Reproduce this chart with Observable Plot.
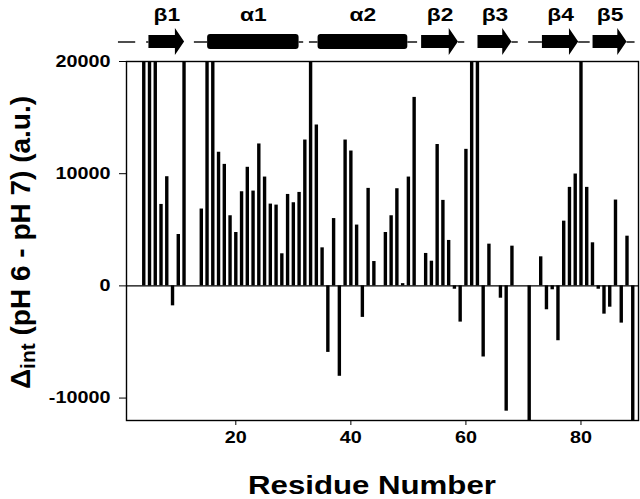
<!DOCTYPE html>
<html><head><meta charset="utf-8">
<script src="https://cdn.jsdelivr.net/npm/d3@7"></script>
<script src="https://cdn.jsdelivr.net/npm/@observablehq/plot@0.6"></script>
<style>
body{margin:0;background:#fff;}
#wrap{position:relative;width:640px;height:499px;}
#wrap svg{position:absolute;left:0;top:0;}
</style></head><body><div id="wrap"></div>
<script>
// Residue numbers and Δint (pH 6 − pH 7) values (a.u.); off-scale bars are shown at the axis limit
const residues = [4,5,6,7,8,9,10,11,14,15,16,17,18,19,20,21,22,23,24,25,26,27,28,29,30,31,32,33,34,35,36,37,38,39,40,41,42,43,44,46,47,48,49,50,51,53,54,55,56,57,58,59,60,61,62,63,64,66,67,68,71,73,74,75,76,77,78,79,80,81,82,83,84,85,86,87,88,89];
const values = [20000,20000,20000,7260,9730,-1780,4580,20000,6850,20000,20000,11900,10830,6250,4760,8390,10570,8450,12650,9700,7290,7200,2860,8150,7410,8330,13000,20000,14350,3390,-5930,6000,-8060,13000,12020,5420,-2810,8690,2170,4760,6250,8660,200,9700,16800,2890,2200,12600,7620,4050,-300,-3230,12170,20000,20000,-6340,3720,-1100,-11170,3540,-12000,2590,-2130,-350,-4890,5770,8780,9970,20000,8780,3840,-300,-2520,-1900,7650,-3320,4430,-12000];
const xTicks = [20,40,60,80];
const yTicks = [-10000,0,10000,20000];

// Secondary structure (residue ranges)
const strandNames = ["β1","β2","β3","β4","β5"];
const strandStart = [4.9,52.3,62.1,73.3,82.1];
const strandEnd = [11.1,58.7,68.0,79.6,88.0];
const helixNames = ["α1","α2"];
const helixStart = [15.1,34.3];
const helixEnd = [31.0,49.9];
const coilStart = [-0.4,4.5,12.8,31.0,32.8,49.9,58.7,68.0,70.9,79.6,88.0];
const coilEnd = [2.6,4.9,15.1,31.8,34.3,51.6,59.8,69.1,73.3,81.6,89.4];

const FONT = "'Liberation Sans', Arial, sans-serif";
const bars = residues.map((r,i)=>({r, v: values[i]}));

const main = Plot.plot({
  width:640, height:499, marginTop:61, marginBottom:79, marginLeft:126, marginRight:2,
  style:{fontFamily:FONT, fontSize:"16.5px", fontWeight:"bold", background:"transparent", color:"black"},
  x:{domain:[1,90], ticks:xTicks, tickSize:5, tickPadding:6, label:null},
  y:{domain:[-12000,20000], ticks:yTicks, tickSize:7, tickPadding:9, label:null, tickFormat:d=>String(d)},
  marks:[
    Plot.ruleX(bars,{x:"r", y1:()=>0, y2:"v", stroke:"black", strokeWidth:3.4}),
    Plot.ruleY([0],{stroke:"black", strokeWidth:1.4}),
    Plot.frame({stroke:"black", strokeWidth:1.4})
  ]
});

// secondary-structure strip, sharing the same x domain and margins
const HEAD = 1.6, LINE_Y = 41.5, BODY = 6.5, HEADH = 13.5, HELIX = 7.5;
const helices = helixNames.map((n,i)=>({n, s:helixStart[i], e:helixEnd[i]}));
const coils = coilStart.map((s,i)=>({s, e:coilEnd[i]}));
const arrowPts = strandNames.flatMap((n,i)=>{
  const s = strandStart[i], e = strandEnd[i], h = e - HEAD;
  return [
    {n, x:s, y1:LINE_Y-BODY, y2:LINE_Y+BODY},
    {n, x:h, y1:LINE_Y-BODY, y2:LINE_Y+BODY},
    {n, x:h, y1:LINE_Y-HEADH, y2:LINE_Y+HEADH},
    {n, x:e, y1:LINE_Y, y2:LINE_Y}
  ];
});
const labels = [
  ...strandNames.map((n,i)=>({n, x:(strandStart[i]+strandEnd[i])/2})),
  ...helixNames.map((n,i)=>({n, x:(helixStart[i]+helixEnd[i])/2}))
];
const strip = Plot.plot({
  width:640, height:61, marginTop:0, marginBottom:0, marginLeft:126, marginRight:2,
  style:{fontFamily:FONT, fontWeight:"bold", background:"transparent", color:"black"},
  x:{domain:[1,90], axis:null},
  y:{domain:[0,61], range:[0,61], axis:null},
  marks:[
    Plot.ruleY(coils,{y:()=>LINE_Y, x1:"s", x2:"e", stroke:"black", strokeWidth:1.4}),
    Plot.rect(helices,{x1:"s", x2:"e", y1:()=>LINE_Y-HELIX, y2:()=>LINE_Y+HELIX, fill:"black", rx:3}),
    Plot.areaY(arrowPts,{x:"x", y1:"y1", y2:"y2", z:"n", fill:"black"}),
    Plot.text(labels,{x:"x", y:()=>14, text:"n", fontSize:19, fontWeight:"bold", fill:"black"})
  ]
});

const wrap = document.getElementById("wrap");
wrap.appendChild(main);
wrap.appendChild(strip);

// axis titles
const ms = d3.select(main);
ms.append("text").attr("x",372).attr("y",494).attr("text-anchor","middle")
  .style("font",`bold 26px ${FONT}`).attr("fill","black").text("Residue Number");
const yl = ms.append("text").attr("transform","translate(30,242.5) rotate(-90)").attr("text-anchor","middle")
  .style("font",`bold 28px ${FONT}`).attr("fill","black");
yl.append("tspan").text("Δ");
yl.append("tspan").attr("dy",5).style("font-size","21px").text("int");
yl.append("tspan").attr("dy",-5).text(" (pH 6 - pH 7) (a.u.)");

// horizontal text in the original figure is stretched ~1.2x (scale about the text anchor)
function stretch(svg,k){
  svg.querySelectorAll("text").forEach(t=>{
    const tr = t.getAttribute("transform")||"";
    if (/rotate/.test(tr)) return;
    const xa = t.getAttribute("x");
    let x = 0;
    if (xa && !/em/.test(xa)) { const p = parseFloat(xa); if (isFinite(p)) x = p; }
    t.setAttribute("transform", `${tr} translate(${x},0) scale(${k},1) translate(${-x},0)`.trim());
  });
}
stretch(main,1.2);
stretch(strip,1.2);
</script></body></html>
